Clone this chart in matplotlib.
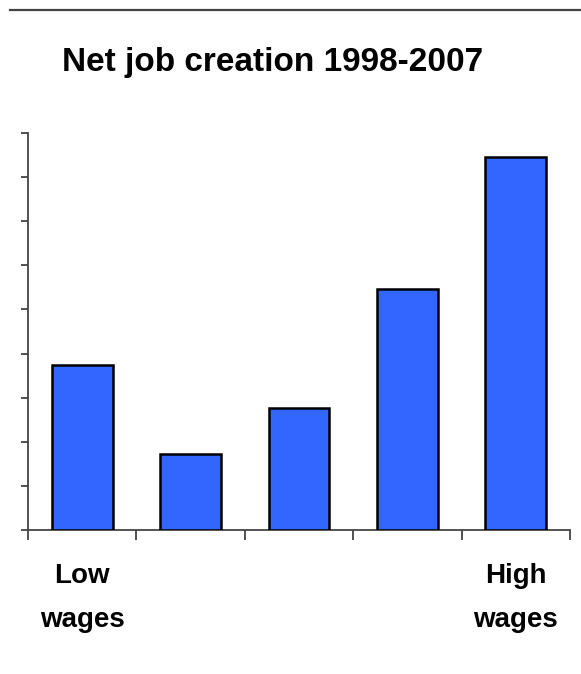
import matplotlib
matplotlib.use("Agg")
import matplotlib.pyplot as plt
from matplotlib.lines import Line2D

categories = ["Low\nwages", "", "", "", "High\nwages"]
values = [3.73, 1.73, 2.77, 5.46, 8.46]
title = "Net job creation 1998-2007"

fam = ["Liberation Sans", "DejaVu Sans"]

fig = plt.figure(figsize=(5.81, 6.74), dpi=100)
ax = fig.add_axes([28/581, (674-530)/674, 542/581, 397/674])

x = list(range(len(values)))
ax.bar(x, values, width=0.56, color="#3366FF", edgecolor="black", linewidth=1.8, zorder=3)

ax.set_xlim(-0.5, len(values) - 0.5)
ax.set_ylim(0, 9)
ax.set_yticks(range(0, 10))
ax.set_yticklabels([])
ax.set_xticks([i - 0.5 for i in range(len(values) + 1)])
ax.set_xticklabels([])
ax.tick_params(axis="y", direction="out", length=4.8, width=1.2, color="#333333")
ax.tick_params(axis="x", direction="out", length=7.5, width=1.2, color="#333333")
for s in ["top", "right"]:
    ax.spines[s].set_visible(False)
ax.spines["left"].set_color("#444444")
ax.spines["left"].set_linewidth(1.3)
ax.spines["bottom"].set_color("#444444")
ax.spines["bottom"].set_linewidth(1.3)

# category labels
for xi, lab in zip(x, categories):
    if lab:
        ax.annotate(lab, xy=(xi, 0), xycoords=("data", "axes fraction"),
                    xytext=(0, -24), textcoords="offset points",
                    ha="center", va="top", fontsize=20, fontweight="bold",
                    family=fam, linespacing=1.9)

fig.text(273/581, 1 - 62/674, title, ha="center", va="center",
         fontsize=24, fontweight="bold", family=fam)

fig.add_artist(Line2D([10/581, 1.0], [1 - 10/674, 1 - 10/674],
                      transform=fig.transFigure, color="#444444", linewidth=1.6))

fig.savefig("out.png", dpi=100)
